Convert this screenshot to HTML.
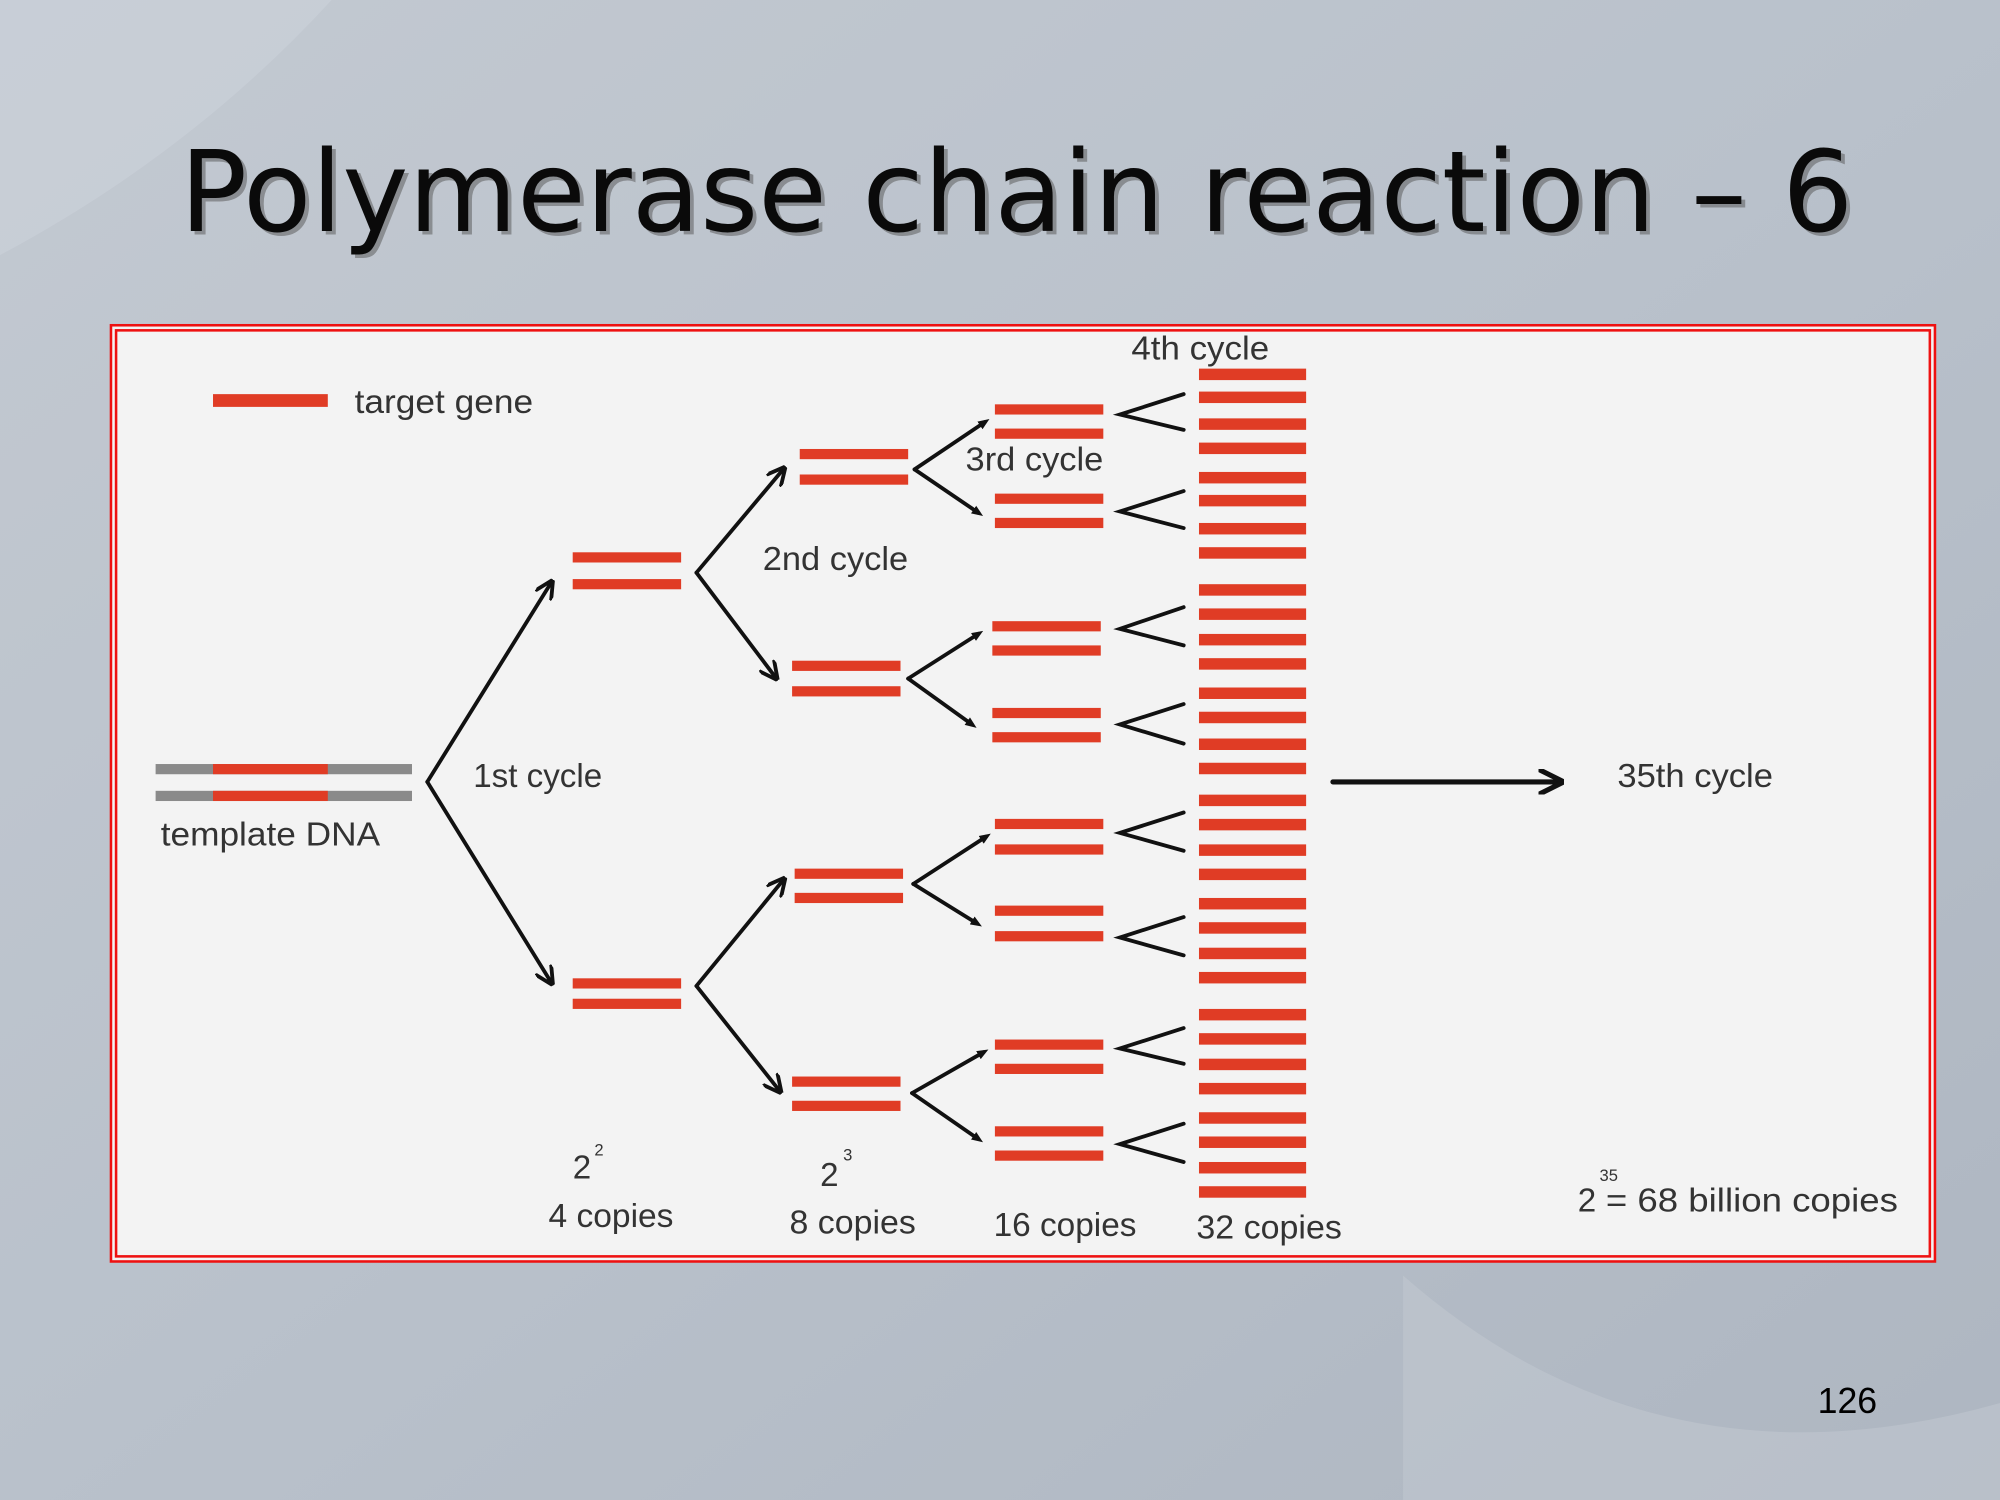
<!DOCTYPE html>
<html><head><meta charset="utf-8"><style>
html,body{margin:0;padding:0;width:2000px;height:1500px;overflow:hidden}
svg{display:block}
</style></head><body>
<svg width="2000" height="1500" viewBox="0 0 1568 1176" xmlns="http://www.w3.org/2000/svg">
<defs>
<linearGradient id="bg" x1="0" y1="0" x2="1" y2="1">
<stop offset="0" stop-color="#c3c9d1"/><stop offset="0.5" stop-color="#b9c1cb"/><stop offset="1" stop-color="#aeb6c1"/>
</linearGradient>
<marker id="ah" viewBox="0 0 10 10" refX="8" refY="5" markerWidth="5" markerHeight="5" orient="auto">
<path d="M0,0 L10,5 L0,10" fill="none" stroke="#111" stroke-width="2"/></marker>
<marker id="ad" viewBox="0 0 10 10" refX="5" refY="5" markerWidth="3" markerHeight="3" orient="auto">
<path d="M0,1 L10,5 L0,9z" fill="#111"/></marker>
</defs>
<rect width="1568" height="1176" fill="url(#bg)"/>
<path d="M0,0 L260,0 Q150,120 0,200z" fill="#ccd2da" opacity="0.6"/>
<path d="M1100,1000 Q1300,1176 1568,1100 L1568,1176 L1100,1176z" fill="#c3c9d1" opacity="0.5"/>
<text x="797" y="181" text-anchor="middle" font-family="DejaVu Sans, Liberation Sans, sans-serif" font-size="88" fill="#555" opacity="0.5" textLength="1312" lengthAdjust="spacingAndGlyphs" transform="translate(3,3)">Polymerase chain reaction – 6</text>
<text x="797" y="181" text-anchor="middle" font-family="DejaVu Sans, Liberation Sans, sans-serif" font-size="88" fill="#0a0a0a" textLength="1312" lengthAdjust="spacingAndGlyphs">Polymerase chain reaction – 6</text>
<text x="1425" y="1108" font-family="Liberation Sans, sans-serif" font-size="28" fill="#000">126</text>

<rect x="87" y="255" width="1430" height="734" fill="#f3f3f3" stroke="#ee1111" stroke-width="2"/>
<rect x="91" y="259" width="1422" height="726" fill="none" stroke="#ee1111" stroke-width="2"/>

<g font-family="Liberation Sans, sans-serif" font-size="26" fill="#333">
<text x="278" y="324" textLength="140" lengthAdjust="spacingAndGlyphs">target gene</text>
<text x="126" y="663" textLength="172" lengthAdjust="spacingAndGlyphs">template DNA</text>
<text x="371" y="617">1st cycle</text>
<text x="598" y="447" textLength="114" lengthAdjust="spacingAndGlyphs">2nd cycle</text>
<text x="757" y="369" textLength="108" lengthAdjust="spacingAndGlyphs">3rd cycle</text>
<text x="887" y="282" textLength="108" lengthAdjust="spacingAndGlyphs">4th cycle</text>
<text x="1268" y="617" textLength="122" lengthAdjust="spacingAndGlyphs">35th cycle</text>
<text x="449" y="924">2</text><text x="466" y="906" font-size="13">2</text>
<text x="430" y="962" textLength="98" lengthAdjust="spacingAndGlyphs">4 copies</text>
<text x="643" y="930">2</text><text x="661" y="910" font-size="13">3</text>
<text x="619" y="967" textLength="99" lengthAdjust="spacingAndGlyphs">8 copies</text>
<text x="779" y="969" textLength="112" lengthAdjust="spacingAndGlyphs">16 copies</text>
<text x="938" y="971" textLength="114" lengthAdjust="spacingAndGlyphs">32 copies</text>
<text x="1237" y="950">2</text><text x="1254" y="926" font-size="13">35</text>
<text x="1259" y="950" textLength="229" lengthAdjust="spacingAndGlyphs">=  68 billion copies</text>
</g>

<g fill="#e03c25">
<rect x="167" y="309" width="90" height="10"/>
</g>
<g fill="#8a8a8a">
<rect x="122" y="599" width="201" height="8"/><rect x="122" y="620" width="201" height="8"/>
</g>
<g fill="#e03c25">
<rect x="167" y="599" width="90" height="8"/><rect x="167" y="620" width="90" height="8"/>
<rect x="449" y="433" width="85" height="8"/><rect x="449" y="454" width="85" height="8"/>
<rect x="449" y="767" width="85" height="8"/><rect x="449" y="783" width="85" height="8"/>
<rect x="627" y="352" width="85" height="8"/><rect x="627" y="372" width="85" height="8"/>
<rect x="621" y="518" width="85" height="8"/><rect x="621" y="538" width="85" height="8"/>
<rect x="623" y="681" width="85" height="8"/><rect x="623" y="700" width="85" height="8"/>
<rect x="621" y="844" width="85" height="8"/><rect x="621" y="863" width="85" height="8"/>
<rect x="780" y="317" width="85" height="8"/><rect x="780" y="336" width="85" height="8"/>
<rect x="780" y="387" width="85" height="8"/><rect x="780" y="406" width="85" height="8"/>
<rect x="778" y="487" width="85" height="8"/><rect x="778" y="506" width="85" height="8"/>
<rect x="778" y="555" width="85" height="8"/><rect x="778" y="574" width="85" height="8"/>
<rect x="780" y="642" width="85" height="8"/><rect x="780" y="662" width="85" height="8"/>
<rect x="780" y="710" width="85" height="8"/><rect x="780" y="730" width="85" height="8"/>
<rect x="780" y="815" width="85" height="8"/><rect x="780" y="834" width="85" height="8"/>
<rect x="780" y="883" width="85" height="8"/><rect x="780" y="902" width="85" height="8"/>
</g>
<g fill="#e03c25">
<rect x="940" y="289" width="84" height="9"/><rect x="940" y="307" width="84" height="9"/><rect x="940" y="328" width="84" height="9"/><rect x="940" y="347" width="84" height="9"/>
<rect x="940" y="370" width="84" height="9"/><rect x="940" y="388" width="84" height="9"/><rect x="940" y="410" width="84" height="9"/><rect x="940" y="429" width="84" height="9"/>
<rect x="940" y="458" width="84" height="9"/><rect x="940" y="477" width="84" height="9"/><rect x="940" y="497" width="84" height="9"/><rect x="940" y="516" width="84" height="9"/>
<rect x="940" y="539" width="84" height="9"/><rect x="940" y="558" width="84" height="9"/><rect x="940" y="579" width="84" height="9"/><rect x="940" y="598" width="84" height="9"/>
<rect x="940" y="623" width="84" height="9"/><rect x="940" y="642" width="84" height="9"/><rect x="940" y="662" width="84" height="9"/><rect x="940" y="681" width="84" height="9"/>
<rect x="940" y="704" width="84" height="9"/><rect x="940" y="723" width="84" height="9"/><rect x="940" y="743" width="84" height="9"/><rect x="940" y="762" width="84" height="9"/>
<rect x="940" y="791" width="84" height="9"/><rect x="940" y="810" width="84" height="9"/><rect x="940" y="830" width="84" height="9"/><rect x="940" y="849" width="84" height="9"/>
<rect x="940" y="872" width="84" height="9"/><rect x="940" y="891" width="84" height="9"/><rect x="940" y="911" width="84" height="9"/><rect x="940" y="930" width="84" height="9"/>
</g>

<g stroke="#111" stroke-width="3" fill="none" stroke-linecap="round">
<line x1="335" y1="613" x2="432" y2="457" marker-end="url(#ah)"/>
<line x1="335" y1="613" x2="432" y2="770" marker-end="url(#ah)"/>
<line x1="546" y1="449" x2="614" y2="368" marker-end="url(#ah)"/>
<line x1="546" y1="449" x2="608" y2="531" marker-end="url(#ah)"/>
<line x1="546" y1="773" x2="614" y2="690" marker-end="url(#ah)"/>
<line x1="546" y1="773" x2="611" y2="855" marker-end="url(#ah)"/>
<line x1="717" y1="368" x2="772" y2="331" marker-end="url(#ad)"/>
<line x1="717" y1="368" x2="767" y2="402" marker-end="url(#ad)"/>
<line x1="712" y1="532" x2="767" y2="497" marker-end="url(#ad)"/>
<line x1="712" y1="532" x2="762" y2="568" marker-end="url(#ad)"/>
<line x1="716" y1="693" x2="773" y2="656" marker-end="url(#ad)"/>
<line x1="716" y1="693" x2="766" y2="724" marker-end="url(#ad)"/>
<line x1="715" y1="857" x2="771" y2="825" marker-end="url(#ad)"/>
<line x1="715" y1="857" x2="767" y2="893" marker-end="url(#ad)"/>
<path d="M928,309 L878,325 L928,337"/>
<path d="M928,385 L878,401 L928,414"/>
<path d="M928,476 L878,493 L928,506"/>
<path d="M928,552 L878,568 L928,583"/>
<path d="M928,637 L878,653 L928,667"/>
<path d="M928,719 L878,735 L928,749"/>
<path d="M928,806 L878,822 L928,834"/>
<path d="M928,881 L878,897 L928,911"/>
<line x1="1045" y1="613" x2="1222" y2="613" stroke-width="4" marker-end="url(#ah)"/>
</g>
</svg>
</body></html>
